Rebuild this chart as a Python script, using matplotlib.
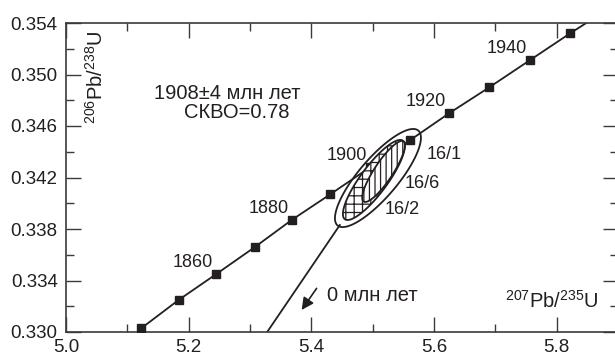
import numpy as np
import matplotlib
matplotlib.use("Agg")
import matplotlib.pyplot as plt
from matplotlib.patches import Polygon
from matplotlib.ticker import MultipleLocator, FormatStrFormatter

plt.rcParams['font.family'] = ['Liberation Sans', 'DejaVu Sans']
plt.rcParams['mathtext.fontset'] = 'custom'
plt.rcParams['mathtext.rm'] = 'Liberation Sans'
plt.rcParams['mathtext.it'] = 'Liberation Sans:italic'
plt.rcParams['hatch.linewidth'] = 0.9

# ---- data ----
conc_ages = [1840, 1850, 1860, 1870, 1880, 1890, 1900, 1910, 1920, 1930, 1940, 1950]
conc_x = [5.123, 5.184, 5.245, 5.308, 5.368, 5.431, 5.496, 5.561, 5.625, 5.690, 5.756, 5.822]
conc_y = [0.3303, 0.3325, 0.3345, 0.3366, 0.3387, 0.3407, 0.3428, 0.3449, 0.3470, 0.3490, 0.3511, 0.3532]
conc_tail_x = [5.891]   # continuation of the concordia beyond the frame
conc_tail_y = [0.3553]
labeled_ages = [1860, 1880, 1900, 1920, 1940]

disc_x = [5.328, 5.4465]
disc_y = [0.3300, 0.33831]

# error ellipses: name, x, y, sigma_x, sigma_y, rho
ell_names = ['16/1', '16/2', '16/6']
ell_x = [5.5086, 5.502, 5.5178]
ell_y = [0.34196, 0.34181, 0.34247]
ell_sx = [0.0701, 0.0505, 0.0348]
ell_sy = [0.00381, 0.00311, 0.00237]
ell_rho = [0.82, 0.85, 0.86]

arrow_from = (5.4086, 0.33339)
arrow_to = (5.3842, 0.33171)

x_ticks = [5.0, 5.2, 5.4, 5.6, 5.8]
y_ticks = [0.330, 0.334, 0.338, 0.342, 0.346, 0.350, 0.354]

# ---- figure ----
ink = '#231f20'
spc = '#3a3a3a'
fig = plt.figure(figsize=(6.15, 3.58), dpi=100)
left = 66 / 615
bottom = 26 / 358
top = 335 / 358
right = 618 / 615
ax = fig.add_axes([left, bottom, right - left, top - bottom])
ax.set_xlim(5.0, 5.9)
ax.set_ylim(0.330, 0.354)

for s in ax.spines.values():
    s.set_color(spc)
    s.set_linewidth(1.2)

ax.xaxis.set_minor_locator(MultipleLocator(0.1))
ax.yaxis.set_minor_locator(MultipleLocator(0.002))
ax.set_xticks(x_ticks)
ax.set_yticks(y_ticks)
ax.xaxis.set_major_formatter(FormatStrFormatter('%.1f'))
ax.yaxis.set_major_formatter(FormatStrFormatter('%.3f'))
ax.tick_params(which='both', direction='in', top=True, right=True, color=spc,
               width=1.0, labelsize=13.5, labelcolor=ink)
ax.tick_params(which='major', length=11)
ax.tick_params(which='minor', length=6)
ax.tick_params(axis='x', which='major', pad=5)
ax.tick_params(axis='y', which='major', pad=6)

# concordia
ax.plot(conc_x + conc_tail_x, conc_y + conc_tail_y, color=ink, lw=1.3, zorder=2)
ax.plot(conc_x, conc_y, ls='none', marker='s', ms=5.5, mfc=ink, mec=ink, zorder=3)

for a, x, y in zip(conc_ages, conc_x, conc_y):
    if a in labeled_ages:
        ax.annotate(str(a), xy=(x, y), xytext=(-3, 3), textcoords='offset pixels',
                    ha='right', va='bottom', fontsize=13, color=ink, zorder=6)

# discordia
ax.plot(disc_x, disc_y, color=ink, lw=1.3, zorder=2)


def ellipse_pts(cx, cy, sx, sy, rho, n=200):
    t = np.linspace(0, 2 * np.pi, n)
    xs = cx + sx * np.cos(t)
    ys = cy + sy * (rho * np.cos(t) + np.sqrt(1 - rho ** 2) * np.sin(t))
    return np.column_stack([xs, ys])

styles = [dict(fill=False, hatch=None, z=4),
          dict(fill=True, hatch='++', z=4.2),
          dict(fill=True, hatch='|||', z=4.4)]
for i in range(len(ell_names)):
    pts = ellipse_pts(ell_x[i], ell_y[i], ell_sx[i], ell_sy[i], ell_rho[i])
    st = styles[i]
    p = Polygon(pts, closed=True, facecolor='white' if st['fill'] else 'none',
                edgecolor=ink, lw=1.3, hatch=st['hatch'], zorder=st['z'])
    ax.add_patch(p)

ax.text(5.6161, 0.34375, ell_names[0], fontsize=13, color=ink, ha='center', va='center')
ax.text(5.5811, 0.34150, ell_names[2], fontsize=13, color=ink, ha='center', va='center')
ax.text(5.5485, 0.33948, ell_names[1], fontsize=13, color=ink, ha='center', va='center')

ax.text(5.2624, 0.34849, '1908±4 млн лет', fontsize=14.5, color=ink, ha='center', va='center')
ax.text(5.2779, 0.34701, 'СКВО=0.78', fontsize=14.5, color=ink, ha='center', va='center')

ax.annotate('', xy=arrow_to, xytext=arrow_from,
            arrowprops=dict(arrowstyle='-|>', color=ink, lw=1.2,
                            mutation_scale=18, shrinkA=0, shrinkB=0))
ax.text(5.4254, 0.33287, '0 млн лет', fontsize=14.5, color=ink, ha='left', va='center')

ax.text(5.792, 0.33241, r'$^{207}$Pb/$^{235}$U', fontsize=14.5, color=ink,
        ha='center', va='center')
ax.text(5.0489, 0.34981, r'$^{206}$Pb/$^{238}$U', fontsize=14.5, color=ink,
        ha='center', va='center', rotation=90)

fig.savefig('out.png', dpi=100)
